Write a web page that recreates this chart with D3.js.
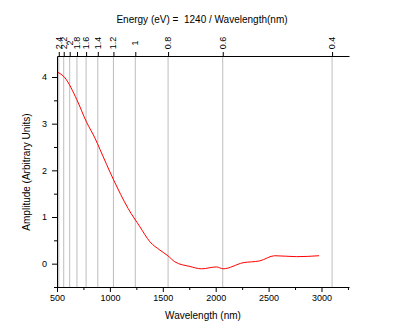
<!DOCTYPE html>
<html>
<head>
<meta charset="utf-8">
<script src="https://cdn.jsdelivr.net/npm/d3@7"></script>
<style>
  body { margin: 0; background: #fff; }
  text { font-family: "Liberation Sans", Arial, sans-serif; }
</style>
</head>
<body>
<div id="chart"></div>
<script>
// wavelength (nm) vs amplitude
const wavelength = [500, 576, 686, 780, 859, 906, 1032, 1173, 1284, 1378, 1473, 1548, 1614, 1756, 1866, 2008, 2070, 2259, 2417, 2558, 2763, 2977];
const amplitude  = [4.11, 3.98, 3.52, 3.03, 2.69, 2.45, 1.81, 1.18, 0.79, 0.47, 0.29, 0.17, 0.04, -0.06, -0.11, -0.07, -0.11, 0.02, 0.06, 0.17, 0.15, 0.17];

const energyTicks = [2.4, 2.2, 2, 1.8, 1.6, 1.4, 1.2, 1, 0.8, 0.6, 0.4];
const xTicks = [500, 1000, 1500, 2000, 2500, 3000];
const yTicks = [0, 1, 2, 3, 4];

const width = 406, height = 333;
const margin = { top: 56, right: 57, bottom: 46, left: 57 };

const svg = d3.select('#chart')
  .append('svg')
  .attr('width', width)
  .attr('height', height);

const x = d3.scaleLinear()
  .domain([500, 3260])
  .range([margin.left, width - margin.right]);

const y = d3.scaleLinear()
  .domain([-0.5, 4.45])
  .range([height - margin.bottom, margin.top]);

// grid lines at the energy ticks
svg.append('g')
  .selectAll('line')
  .data(energyTicks)
  .join('line')
  .attr('x1', d => x(1240 / d))
  .attr('x2', d => x(1240 / d))
  .attr('y1', y.range()[1])
  .attr('y2', y.range()[0])
  .attr('stroke', '#bdbdbd')
  .attr('stroke-width', 1);

// the curve
const line = d3.line()
  .x((d, i) => x(wavelength[i]))
  .y(d => y(d))
  .curve(d3.curveMonotoneX);

svg.append('path')
  .datum(amplitude)
  .attr('fill', 'none')
  .attr('stroke', 'red')
  .attr('stroke-width', 1)
  .attr('d', line);

// bottom axis
const xMinor = d3.range(750, 3260, 500);
svg.append('g')
  .attr('transform', `translate(0,${y.range()[0]})`)
  .call(d3.axisBottom(x).tickValues(xMinor).tickSize(3).tickFormat(''))
  .call(g => g.select('.domain').remove());
svg.append('g')
  .attr('transform', `translate(0,${y.range()[0]})`)
  .call(d3.axisBottom(x).tickValues(xTicks).tickSize(5).tickSizeOuter(0).tickPadding(3).tickFormat(d3.format('d')))
  .call(g => g.selectAll('text').attr('font-size', 9));

// left axis
const yMinor = [-0.5, 0.5, 1.5, 2.5, 3.5];
svg.append('g')
  .attr('transform', `translate(${margin.left},0)`)
  .call(d3.axisLeft(y).tickValues(yMinor).tickSize(3).tickFormat(''))
  .call(g => g.select('.domain').remove());
svg.append('g')
  .attr('transform', `translate(${margin.left},0)`)
  .call(d3.axisLeft(y).tickValues(yTicks).tickSize(5).tickSizeOuter(0).tickPadding(5).tickFormat(d3.format('d')))
  .call(g => g.selectAll('text').attr('font-size', 9));

// top energy axis
const topAxis = svg.append('g')
  .attr('transform', `translate(0,${margin.top})`);
topAxis.call(d3.axisTop(x).tickValues(energyTicks.map(e => 1240 / e)).tickSize(4).tickSizeOuter(0).tickFormat(''));
topAxis.selectAll('.energy')
  .data(energyTicks)
  .join('text')
  .attr('class', 'energy')
  .attr('transform', d => `translate(${x(1240 / d) + 3},-13) rotate(-90)`)
  .attr('font-size', 9)
  .attr('fill', '#000')
  .text(d => d);

svg.selectAll('.domain, .tick line').attr('stroke', '#000');

// titles
svg.append('text')
  .attr('x', 202)
  .attr('y', 23)
  .attr('text-anchor', 'middle')
  .attr('font-size', 10)
  .style('white-space', 'pre')
  .text('Energy (eV) =  1240 / Wavelength(nm)');

svg.append('text')
  .attr('x', 203)
  .attr('y', 319)
  .attr('text-anchor', 'middle')
  .attr('font-size', 10)
  .text('Wavelength (nm)');

svg.append('text')
  .attr('transform', 'translate(30,172) rotate(-90)')
  .attr('text-anchor', 'middle')
  .attr('font-size', 10)
  .text('Amplitude (Arbitrary Units)');
</script>
</body>
</html>
